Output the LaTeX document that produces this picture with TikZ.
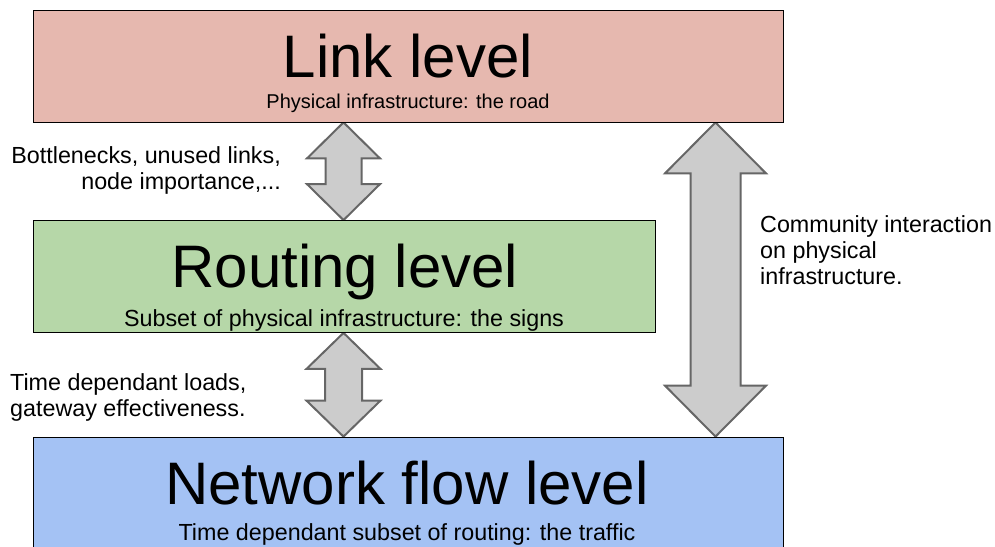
\documentclass[tikz,border=0pt]{standalone}
\usepackage{fontspec}
\setmainfont{Liberation Sans}
\usetikzlibrary{calc,backgrounds}

\definecolor{linkred}{HTML}{E6B8AF}
\definecolor{routegreen}{HTML}{B6D7A8}
\definecolor{flowblue}{HTML}{A4C2F4}
\definecolor{arrowgray}{HTML}{CCCCCC}
\definecolor{arrowedge}{HTML}{666666}

% block arrow with a head at both ends: top tip, bottom tip, head half width, shaft half width, head length
\newcommand{\updown}[5]{%
    \draw[bigarrow] let \p1 = (#1), \p2 = (#2) in
        (\x1,\y1) -- (\x1+#3,\y1-#5) -- (\x1+#4,\y1-#5) -- (\x1+#4,\y2+#5) -- (\x1+#3,\y2+#5)
        -- (\x2,\y2) -- (\x1-#3,\y2+#5) -- (\x1-#4,\y2+#5) -- (\x1-#4,\y1-#5) -- (\x1-#3,\y1-#5) -- cycle;}

\begin{document}
\begin{tikzpicture}[x=1pt, y=-1pt,
    levelbox/.style={draw, line width=0.8pt, inner sep=0pt, minimum height=112pt},
    bigarrow/.style={fill=arrowgray, draw=arrowedge, line width=2pt, line join=miter},
    leveltitle/.style={anchor=base, inner sep=0pt, font=\fontsize{60}{60}\selectfont},
    levelsub/.style={anchor=base, inner sep=0pt, font=\fontsize{23.3}{26}\selectfont},
    sidenote/.style={inner sep=0pt, font=\fontsize{23.3}{26}\selectfont}]
    \useasboundingbox (0,0) rectangle (995,546);

    \node[levelbox, fill=linkred, minimum width=750pt] (link) at (408,66) {};
    \node[levelbox, fill=routegreen, minimum width=622pt] (routing) at (344,276.5) {};
    \node[levelbox, fill=flowblue, minimum width=750pt, minimum height=120pt] (flow) at (408,497) {};

    \node[leveltitle] (linktitle) at (408,77) {Link level};
    \node[levelsub, font=\fontsize{20}{24}\selectfont] (linksub) at (408,108.5) {Physical infrastructure: the road};
    \node[leveltitle] (routingtitle) at (345,287) {Routing level};
    \node[levelsub] (routingsub) at (344,326.5) {Subset of physical infrastructure: the signs};
    \node[leveltitle] (flowtitle) at (407,504) {Network flow level};
    \node[levelsub] (flowsub) at (407,540) {Time dependant subset of routing: the traffic};

    \node[sidenote, anchor=base east, align=right] (bottlenote) at (281,189) {Bottlenecks, unused links,\\node importance,...};
    \node[sidenote, anchor=base west, align=left] (loadnote) at (10,416) {Time dependant loads,\\gateway effectiveness.};
    \node[sidenote, anchor=base west, align=left] (communitynote) at (760,284) {Community interaction\\on physical\\infrastructure.};

    \coordinate (leftx) at (343.5,0);
    \coordinate (rightx) at (715.5,0);
    \begin{scope}[on background layer]
        \updown{link.south -| leftx}{routing.north -| leftx}{36.5pt}{18pt}{36pt}
        \updown{routing.south -| leftx}{flow.north -| leftx}{37pt}{18.5pt}{36pt}
        \updown{link.south -| rightx}{flow.north -| rightx}{50.5pt}{25pt}{51pt}
    \end{scope}
\end{tikzpicture}
\end{document}
